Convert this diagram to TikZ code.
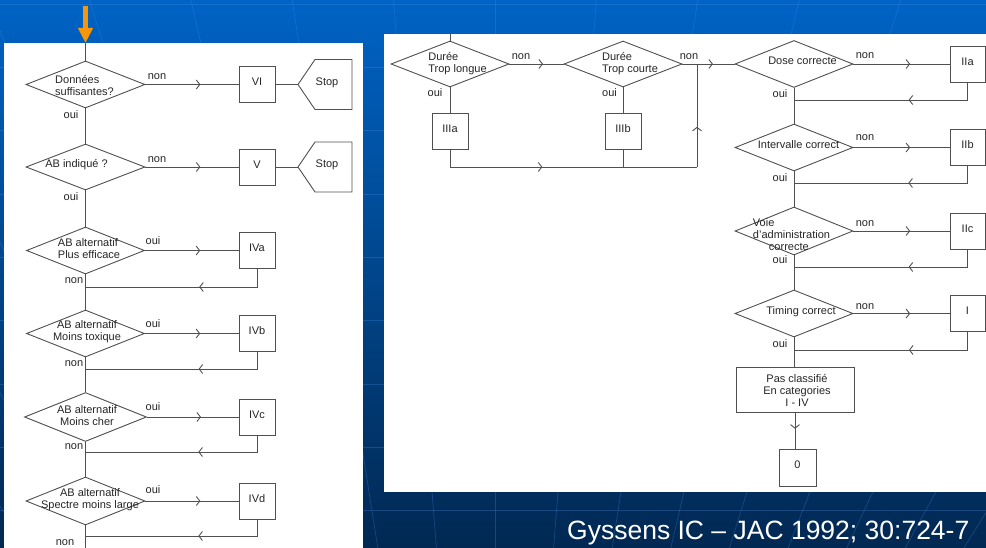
\documentclass[tikz,border=0pt]{standalone}
\usepackage{fontspec}
\setmainfont{Liberation Sans}
\usetikzlibrary{shapes.geometric, arrows.meta, decorations.markings}
\definecolor{lncol}{HTML}{505050}
\definecolor{txtcol}{HTML}{262626}
\definecolor{bgtop}{RGB}{0,99,197}
\definecolor{bgbot}{RGB}{1,40,82}
\definecolor{gridc}{RGB}{70,140,225}
\definecolor{arrc}{RGB}{248,150,10}
\newcommand{\diafont}{\fontsize{11}{12}\selectfont}
\begin{document}
\begin{tikzpicture}[x=1pt, y=-1pt,
  ln/.style={draw=lncol, color=lncol, line width=0.9pt},
  dia/.style={diamond, draw=lncol, line width=0.9pt, inner sep=0pt},
  boxn/.style={rectangle, draw=lncol, line width=0.9pt, minimum width=36pt,
    minimum height=36pt, inner sep=0pt, text depth=5pt, font=\diafont, text=txtcol},
  lbl/.style={font=\diafont, text=txtcol, inner sep=0pt},
  chevat/.style={postaction={decorate, decoration={markings,
    mark=at position #1 with {\arrow{Straight Barb[length=3.5pt,width=9pt]}}}}},
]
\useasboundingbox (0,0) rectangle (986,548);

% slide background with its faint perspective grid
\shade[top color=bgtop, bottom color=bgbot] (0,0) rectangle (986,548);
\begin{scope}[draw=gridc, opacity=0.3, line width=0.7pt]
  \foreach \h in {4,67,130,194,257,320,384,447,510} \draw (0,\h) -- (986,\h);
  \foreach \k in {-8,...,10} \draw ({495+101.4*\k},0) -- ({495+58.6*\k},548);
\end{scope}

% the two white panels
\fill[white] (4,43) rectangle (363,548);
\fill[white] (384,34) rectangle (986,492);

% entry arrow
\coordinate (arrTop) at (85.5,6);
\coordinate (topL) at (85.5,43);
\draw[arrc, line width=4.5pt, -{Triangle[length=15pt,width=14pt]}] (arrTop) -- (topL);

% ---------- left column ----------
\node[dia, minimum width=119pt, minimum height=47pt] (d1) at (85.5,84.5) {};
\node[dia, minimum width=119pt, minimum height=46pt] (d2) at (85.5,167) {};
\node[dia, minimum width=118pt, minimum height=47pt] (d3) at (85.5,250.5) {};
\node[dia, minimum width=118pt, minimum height=47pt] (d4) at (85.5,333.5) {};
\node[dia, minimum width=122pt, minimum height=49pt] (d5) at (85.5,417) {};
\node[dia, minimum width=119pt, minimum height=48pt] (d6) at (85.5,501) {};

\node[lbl, align=left]   (t1) at (84.5,85.5) {Données\\suffisantes?};
\node[lbl]               (t2) at (76.5,165)  {AB indiqué ?};
\node[lbl, align=left]   (t3) at (89,249)    {AB alternatif\\Plus efficace};
\node[lbl, align=center] (t4) at (87,332)    {AB alternatif\\Moins toxique};
\node[lbl, align=center] (t5) at (87,416)    {AB alternatif\\Moins cher};
\node[lbl, align=center] (t6) at (90,500)    {AB alternatif\\Spectre moins large};

\node[boxn] (VI)  at (257,84.5)  {VI};
\node[boxn] (V)   at (257,167)   {V};
\node[boxn] (IVa) at (257,250.5) {IVa};
\node[boxn] (IVb) at (257,333.5) {IVb};
\node[boxn] (IVc) at (257,417)   {IVc};
\node[boxn] (IVd) at (257,501)   {IVd};

% stop signs
\coordinate (s1) at (298,84.5);
\coordinate (s2) at (298,167);
\foreach \s in {s1,s2}
  \draw[ln] (\s) -- ++(17,-25) -- ++(37,0) -- ++(0,50) -- ++(-37,0) -- cycle;
\node[lbl] (stop1) at (327,82.5) {Stop};
\node[lbl] (stop2) at (327,165)  {Stop};

% main trunk
\coordinate (r3) at (85.5,287);
\coordinate (r4) at (85.5,369);
\coordinate (r5) at (85.5,452);
\coordinate (r6) at (85.5,536);
\coordinate (endL) at (85.5,548);
\draw[ln] (topL) -- (d1.north);
\draw[ln] (d1.south) -- (d2.north);
\draw[ln] (d2.south) -- (d3.north);
\draw[ln] (d3.south) -- (d4.north);
\draw[ln] (d4.south) -- (d5.north);
\draw[ln] (d5.south) -- (d6.north);
\draw[ln] (d6.south) -- (endL);

% branches
\draw[ln, chevat=0.59] (d1.east) -- (VI.west);
\draw[ln, chevat=0.59] (d2.east) -- (V.west);
\draw[ln] (VI.east) -- (s1);
\draw[ln] (V.east) -- (s2);
\draw[ln, chevat=0.59] (d3.east) -- (IVa.west);
\draw[ln, chevat=0.59] (d4.east) -- (IVb.west);
\draw[ln, chevat=0.59] (d5.east) -- (IVc.west);
\draw[ln, chevat=0.59] (d6.east) -- (IVd.west);
\draw[ln, chevat=0.40] (IVa.south) |- (r3);
\draw[ln, chevat=0.40] (IVb.south) |- (r4);
\draw[ln, chevat=0.40] (IVc.south) |- (r5);
\draw[ln, chevat=0.40] (IVd.south) |- (r6);

% branch labels
\node[lbl] (n1) at (157,77)  {non};
\node[lbl] (n2) at (157,160) {non};
\node[lbl] (o1) at (71,115)  {oui};
\node[lbl] (o2) at (71,197)  {oui};
\node[lbl] (o3) at (153,241) {oui};
\node[lbl] (o4) at (153,324) {oui};
\node[lbl] (o5) at (153,407) {oui};
\node[lbl] (o6) at (153,490) {oui};
\node[lbl] (n3) at (74,281)  {non};
\node[lbl] (n4) at (74,364)  {non};
\node[lbl] (n5) at (74,447)  {non};
\node[lbl] (n6) at (65,543)  {non};

% ---------- right panel: duration ----------
\coordinate (topA) at (450,34);
\node[dia, minimum width=118pt, minimum height=46pt] (A) at (450,64) {};
\node[dia, minimum width=118pt, minimum height=46pt] (B) at (623,64) {};
\node[lbl, align=left] (tA) at (457.5,64) {Durée\\Trop longue};
\node[lbl, align=left] (tB) at (630,64)   {Durée\\Trop courte};
\node[boxn] (IIIa) at (450,131) {IIIa};
\node[boxn] (IIIb) at (623,131) {IIIb};
\coordinate (J) at (697,64);
\coordinate (K) at (697,167);
\coordinate (L) at (450,167);
\coordinate (M) at (623,167);

\draw[ln] (topA) -- (A.north);
\draw[ln, chevat=0.62] (A.east) -- (B.west);
\draw[ln] (A.south) -- (IIIa.north);
\draw[ln] (B.south) -- (IIIb.north);
\draw[ln] (IIIa.south) -- (L);
\draw[ln] (IIIb.south) -- (M);
\draw[ln, chevat=0.374] (L) -- (K);
\draw[ln, chevat=0.39] (K) -- (J);

\node[lbl] (nA) at (521,57)   {non};
\node[lbl] (nB) at (689,57)   {non};
\node[lbl] (oA) at (435,93)   {oui};
\node[lbl] (oB) at (609.5,93) {oui};

% ---------- right panel: dosage checks ----------
\node[dia, minimum width=118pt, minimum height=47pt] (C) at (794,64) {};
\node[dia, minimum width=118pt, minimum height=47pt] (D) at (794,147.5) {};
\node[dia, minimum width=118pt, minimum height=48pt] (E) at (794,231) {};
\node[dia, minimum width=118pt, minimum height=47pt] (F) at (794,313.5) {};
\node[lbl] (tC) at (802.5,61) {Dose correcte};
\node[lbl] (tD) at (798.5,145) {Intervalle correct};
\node[lbl, align=left] (tE) at (791.5,234.5) {Voie\\d’administration\\\hspace*{16pt}correcte};
\node[lbl] (tF) at (801,312) {Timing correct};

\node[boxn, minimum width=35pt] (IIa) at (967.5,64)    {IIa};
\node[boxn, minimum width=35pt] (IIb) at (967.5,147.5) {IIb};
\node[boxn, minimum width=35pt] (IIc) at (967.5,231)   {IIc};
\node[boxn, minimum width=35pt] (I)   at (967.5,313.5) {I};

\node[rectangle, draw=lncol, line width=0.9pt, minimum width=118pt, minimum height=45pt,
  inner sep=0pt] (pas) at (795,389.5) {};
\node[lbl, align=center] (tpas) at (797,390) {Pas classifié\\En categories\\I - IV};
\node[boxn, minimum width=37pt, minimum height=37pt] (zero) at (797.5,467.5) {0};

\coordinate (rc) at (794,100);
\coordinate (rd) at (794,183);
\coordinate (re) at (794,267);
\coordinate (rf) at (794,350);

\draw[ln, chevat=0.585] (B.east) -- (C.west);
\draw[ln] (C.south) -- (D.north);
\draw[ln] (D.south) -- (E.north);
\draw[ln] (E.south) -- (F.north);
\draw[ln] (F.south) -- (F.south |- pas.north);
\draw[ln, chevat=0.59] (C.east) -- (IIa.west);
\draw[ln, chevat=0.59] (D.east) -- (IIb.west);
\draw[ln, chevat=0.59] (E.east) -- (IIc.west);
\draw[ln, chevat=0.59] (F.east) -- (I.west);
\draw[ln, chevat=0.40] (IIa.south) |- (rc);
\draw[ln, chevat=0.40] (IIb.south) |- (rd);
\draw[ln, chevat=0.40] (IIc.south) |- (re);
\draw[ln, chevat=0.40] (I.south) |- (rf);
\draw[ln, chevat=0.45] (pas.south) -- (pas.south |- zero.north);

\node[lbl] (nC) at (865,56)  {non};
\node[lbl] (nD) at (865,138) {non};
\node[lbl] (nE) at (865,224) {non};
\node[lbl] (nF) at (865,307) {non};
\node[lbl] (oC) at (780,94)  {oui};
\node[lbl] (oD) at (780,178) {oui};
\node[lbl] (oE) at (780,260) {oui};
\node[lbl] (oF) at (780,344) {oui};

% reference line
\node[anchor=base west, inner sep=0pt, text=white, font=\fontsize{26.5}{30}\selectfont]
  (ref) at (567,539) {Gyssens IC – JAC 1992; 30:724-7};
\end{tikzpicture}
\end{document}
